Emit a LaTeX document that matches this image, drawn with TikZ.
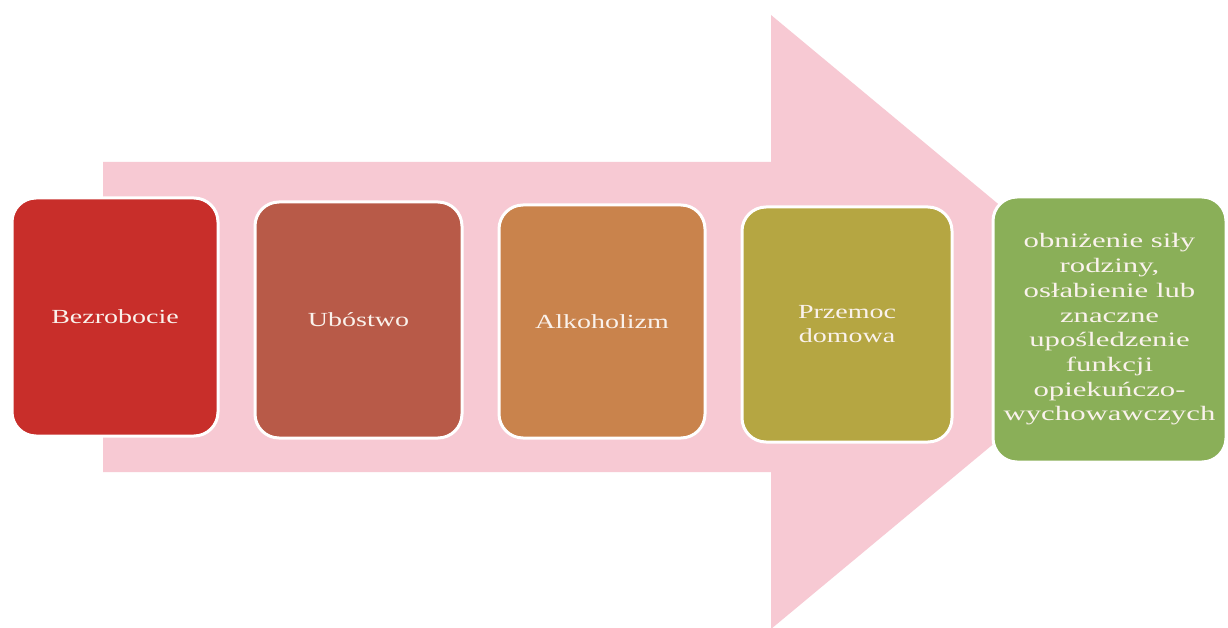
\documentclass[tikz,border=0pt]{standalone}
\usepackage{fontspec}
\setmainfont{Liberation Serif}
\newfontfamily\boxfont[FakeStretch=1.4]{Liberation Serif}
\newfontfamily\greenfont[FakeStretch=1.5]{Liberation Serif}
\definecolor{pinkarrow}{RGB}{247,201,211}
\definecolor{cA}{RGB}{200,46,42}
\definecolor{cB}{RGB}{184,90,72}
\definecolor{cC}{RGB}{201,131,76}
\definecolor{cD}{RGB}{181,166,66}
\definecolor{cE}{RGB}{138,175,88}
\definecolor{txt}{RGB}{250,242,236}
\begin{document}
\begin{tikzpicture}[x=1pt,y=-1pt,
  stagebox/.style={draw=white, line width=3pt, rounded corners=24pt,
    text=txt, align=center, inner sep=2pt,
    font=\boxfont\fontsize{20}{24}\selectfont},
]
\useasboundingbox (0,0) rectangle (1228,628);
\fill[white] (0,0) rectangle (1228,628);
% big arrow
\fill[pinkarrow] (103,162) -- (771,162) -- (771,15) -- (1140,322)
  -- (771,629) -- (771,472) -- (103,472) -- cycle;
% boxes
\node[stagebox, fill=cA, minimum width=206pt, minimum height=238pt] (b1) at (115,317) {Bezrobocie};
\node[stagebox, fill=cB, minimum width=207pt, minimum height=236pt] (b2) at (358.5,320) {Ubóstwo};
\node[stagebox, fill=cC, minimum width=206pt, minimum height=233pt] (b3) at (602,321.5) {Alkoholizm};
\node[stagebox, fill=cD, minimum width=210pt, minimum height=235pt] (b4) at (847,324.5) {Przemoc\\domowa};
\node[stagebox, fill=cE, minimum width=233pt, minimum height=265pt,
  font=\greenfont\fontsize{20.5}{24.7}\selectfont] (b5) at (1109.5,329.5)
  {obniżenie siły\\rodziny,\\osłabienie lub\\znaczne\\upośledzenie\\funkcji\\opiekuńczo-\\wychowawczych};
\end{tikzpicture}
\end{document}
